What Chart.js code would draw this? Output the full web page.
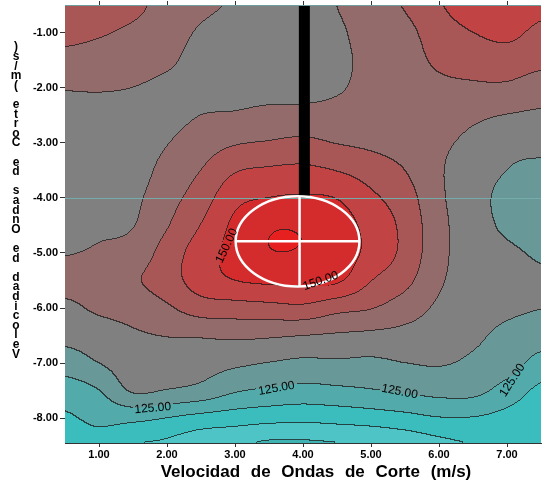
<!DOCTYPE html>
<html>
<head>
<meta charset="utf-8">
<script src="https://cdn.jsdelivr.net/npm/chart.js@4.4.1/dist/chart.umd.min.js"></script>
<style>
  html, body { margin: 0; padding: 0; background: #fff; }
  #wrap { width: 542px; height: 493px; position: relative; }
</style>
</head>
<body>
<div id="wrap"><canvas id="chart"></canvas></div>
<script>
// Malla de valores (columnas = x, filas = profundidad)
const gridX = [0.5, 1.0, 1.5, 2.0, 2.5, 3.0, 3.5, 4.0, 4.5, 5.0, 5.5, 6.0, 6.5, 7.0, 7.5];
const gridY = [-0.5, -1.0, -1.5, -2.0, -2.5, -3.0, -3.5, -4.0, -4.5, -5.0, -5.5, -6.0, -6.5, -7.0, -7.5, -8.0, -8.5];
const gridValues = [
  [143.5, 143.8, 141.5, 138.0, 136.0, 134.5, 133.0, 132.5, 135.0, 138.5, 140.3, 144.5, 147.5, 149.3, 146.5],
  [141.5, 140.6, 139.0, 137.0, 134.5, 133.0, 132.0, 132.0, 134.0, 137.3, 138.6, 142.6, 145.0, 146.3, 143.8],
  [138.5, 138.0, 137.3, 135.8, 133.5, 132.5, 132.0, 132.2, 133.8, 136.3, 137.6, 141.0, 142.0, 142.8, 141.5],
  [135.3, 135.4, 135.0, 134.0, 133.7, 133.5, 133.3, 133.2, 134.4, 136.5, 137.0, 138.8, 139.3, 139.2, 137.5],
  [133.5, 133.5, 133.5, 133.5, 135.0, 135.4, 136.2, 136.5, 136.8, 137.5, 136.9, 137.3, 136.0, 134.9, 134.3],
  [132.5, 132.5, 132.8, 134.8, 137.5, 139.5, 140.3, 141.0, 139.8, 139.0, 137.8, 136.0, 133.8, 131.5, 131.5],
  [132.5, 132.5, 133.0, 136.5, 140.0, 144.5, 145.6, 146.0, 144.8, 142.7, 140.0, 135.6, 132.5, 130.0, 129.0],
  [133.0, 133.2, 134.0, 138.0, 142.5, 148.5, 150.0, 150.5, 149.8, 146.0, 142.3, 136.0, 132.0, 128.7, 127.8],
  [133.8, 134.2, 134.8, 139.6, 145.1, 151.0, 154.3, 154.4, 152.5, 148.2, 143.7, 136.6, 132.2, 129.2, 128.0],
  [134.8, 135.5, 137.0, 142.0, 147.5, 151.5, 154.7, 154.6, 153.0, 148.5, 143.7, 136.6, 132.5, 130.8, 129.5],
  [136.5, 137.0, 139.3, 142.5, 147.5, 150.0, 151.0, 151.2, 150.8, 145.2, 141.5, 135.8, 132.5, 131.5, 130.5],
  [134.0, 135.8, 137.0, 139.3, 142.5, 143.0, 143.5, 144.0, 141.7, 140.3, 137.5, 134.2, 131.8, 130.8, 130.1],
  [131.5, 132.5, 134.3, 135.2, 135.5, 136.0, 135.7, 135.1, 134.5, 134.0, 133.5, 132.5, 130.8, 129.0, 127.5],
  [127.5, 130.0, 132.5, 132.5, 132.0, 131.0, 129.9, 129.0, 129.3, 129.0, 130.0, 130.4, 129.2, 127.5, 123.2],
  [122.5, 124.9, 130.6, 129.8, 128.5, 125.6, 124.3, 123.5, 124.0, 124.7, 125.7, 126.6, 126.5, 123.0, 119.0],
  [119.3, 121.2, 121.3, 120.0, 118.5, 117.5, 116.7, 116.3, 116.8, 117.5, 118.5, 119.8, 119.8, 118.5, 117.0],
  [117.0, 118.0, 115.0, 114.0, 111.5, 110.5, 109.0, 109.0, 109.5, 110.0, 111.5, 113.5, 115.0, 116.0, 116.0]
];
const levels = [110, 115, 120, 125, 130, 135, 140, 145, 150, 155];
const bandColors = ['#3fb3b4', '#4fc4c7', '#3cbdbd', '#53aaaa', '#689898', '#808080',
                    '#946b6b', '#a95656', '#c14343', '#d42c2c', '#e61f1f'];
const xTicks = [1, 2, 3, 4, 5, 6, 7];
const yTicks = [-1, -2, -3, -4, -5, -6, -7, -8];
const labelValues = [150, 150, 125, 125, 125, 125];

// donde van las etiquetas de las curvas (coordenadas de datos) y su giro
const labelSpots = [
  { x: 2.88, y: -4.87, angle: -65 },
  { x: 4.26, y: -5.51, angle: -19 },
  { x: 1.79, y: -7.82, angle: -5 },
  { x: 3.61, y: -7.46, angle: -10 },
  { x: 5.42, y: -7.52, angle: 11 },
  { x: 7.08, y: -7.31, angle: -57 }
];
const barX = 4.02, barFrom = -0.5, barTo = -4.0;
const ring = { cx: 3.92, cy: -4.79, rx: 0.91, ry: 0.82 };
const markerDepth = -4.0;

const labelFont = '12px Arial';

function cubic(p0, p1, p2, p3, t) {
  return p1 + 0.5 * t * (p2 - p0 + t * (2 * p0 - 5 * p1 + 4 * p2 - p3 + t * (3 * (p1 - p2) + p3 - p0)));
}

function sampleGrid(x, y) {
  const fx = (x - gridX[0]) / (gridX[1] - gridX[0]);
  const fy = (y - gridY[0]) / (gridY[1] - gridY[0]);
  const ix = Math.floor(fx), iy = Math.floor(fy);
  const tx = fx - ix, ty = fy - iy;
  const nx = gridX.length, ny = gridY.length;
  const at = (r, c) => gridValues[Math.min(ny - 1, Math.max(0, r))][Math.min(nx - 1, Math.max(0, c))];
  const rows = [];
  for (let k = -1; k <= 2; k++) {
    const r = iy + k;
    rows.push(cubic(at(r, ix - 1), at(r, ix), at(r, ix + 1), at(r, ix + 2), tx));
  }
  return cubic(rows[0], rows[1], rows[2], rows[3], ty);
}

function hexToRgb(h) {
  return [parseInt(h.slice(1, 3), 16), parseInt(h.slice(3, 5), 16), parseInt(h.slice(5, 7), 16)];
}

// Pinta las bandas de colores y las curvas de nivel
const contourPlugin = {
  id: 'contourField',
  beforeDatasetsDraw(chart) {
    const { ctx, chartArea: a, scales: { x, y } } = chart;
    const left = Math.round(a.left), top = Math.round(a.top);
    const w = Math.round(a.right) - left, h = Math.round(a.bottom) - top;

    const xs = [], ys = [];
    for (let i = 0; i < w; i++) xs.push(x.getValueForPixel(left + i + 0.5));
    for (let j = 0; j < h; j++) ys.push(y.getValueForPixel(top + j + 0.5));

    const band = new Uint8Array(w * h);
    for (let j = 0; j < h; j++) {
      for (let i = 0; i < w; i++) {
        const v = sampleGrid(xs[i], ys[j]);
        let b = 0;
        while (b < levels.length && v >= levels[b]) b++;
        band[j * w + i] = b;
      }
    }

    // huecos en la línea donde van las etiquetas
    ctx.save();
    ctx.font = labelFont;
    const gaps = labelSpots.map((s, k) => ({
      cx: x.getPixelForValue(s.x) - left,
      cy: y.getPixelForValue(s.y) - top,
      cos: Math.cos(s.angle * Math.PI / 180),
      sin: Math.sin(s.angle * Math.PI / 180),
      hw: ctx.measureText(labelValues[k].toFixed(2)).width / 2 + 2,
      hh: 6
    }));
    ctx.restore();
    const inGap = (i, j) => gaps.some(g => {
      const dx = i - g.cx, dy = j - g.cy;
      const u = dx * g.cos + dy * g.sin, v = -dx * g.sin + dy * g.cos;
      return Math.abs(u) < g.hw && Math.abs(v) < g.hh;
    });

    const rgb = bandColors.map(hexToRgb);
    const img = ctx.createImageData(w, h);
    for (let j = 0; j < h; j++) {
      for (let i = 0; i < w; i++) {
        const idx = j * w + i;
        const b = band[idx];
        let c = rgb[b];
        const edge = (i < w - 1 && band[idx + 1] !== b) || (j < h - 1 && band[idx + w] !== b);
        if (edge && !inGap(i, j)) {
          c = [c[0] * 0.25 + 20, c[1] * 0.25 + 20, c[2] * 0.25 + 20];
        }
        const p = idx * 4;
        img.data[p] = c[0];
        img.data[p + 1] = c[1];
        img.data[p + 2] = c[2];
        img.data[p + 3] = 255;
      }
    }
    ctx.putImageData(img, left, top);

    // línea horizontal de referencia
    const yy = Math.round(y.getPixelForValue(markerDepth)) + 0.5;
    ctx.save();
    ctx.strokeStyle = '#74abab';
    ctx.lineWidth = 1;
    ctx.beginPath();
    ctx.moveTo(a.left, yy);
    ctx.lineTo(a.right, yy);
    ctx.stroke();
    ctx.restore();
  }
};

// Elipse, cruz, etiquetas y títulos
const overlayPlugin = {
  id: 'overlay',
  afterDatasetsDraw(chart) {
    const { ctx, scales: { x, y } } = chart;
    const cx = x.getPixelForValue(ring.cx), cy = y.getPixelForValue(ring.cy);
    const rx = x.getPixelForValue(ring.cx + ring.rx) - cx;
    const ry = cy - y.getPixelForValue(ring.cy + ring.ry);

    ctx.save();
    ctx.strokeStyle = '#ffffff';
    ctx.lineWidth = 2.5;
    ctx.beginPath();
    ctx.ellipse(cx, cy, rx, ry, 0, 0, Math.PI * 2);
    ctx.stroke();
    ctx.beginPath();
    ctx.moveTo(cx - rx, cy);
    ctx.lineTo(cx + rx, cy);
    ctx.moveTo(cx + 2, cy - ry);
    ctx.lineTo(cx + 2, cy + ry);
    ctx.stroke();

    ctx.fillStyle = '#000';
    ctx.font = labelFont;
    ctx.textAlign = 'center';
    ctx.textBaseline = 'middle';
    labelSpots.forEach((s, k) => {
      ctx.save();
      ctx.translate(x.getPixelForValue(s.x), y.getPixelForValue(s.y));
      ctx.rotate(s.angle * Math.PI / 180);
      ctx.fillText(labelValues[k].toFixed(2), 0, 0);
      ctx.restore();
    });
    ctx.restore();
  },
  afterDraw(chart) {
    const { ctx, chartArea: a, scales: { x } } = chart;
    ctx.save();
    // borde superior y marcas
    ctx.strokeStyle = '#6f9d9d';
    ctx.lineWidth = 1;
    ctx.beginPath();
    ctx.moveTo(a.left, a.top + 0.5);
    ctx.lineTo(a.right, a.top + 0.5);
    ctx.stroke();
    ctx.strokeStyle = '#333';
    ctx.beginPath();
    xTicks.forEach(v => {
      const px = Math.round(x.getPixelForValue(v)) + 0.5;
      ctx.moveTo(px, a.top - 4);
      ctx.lineTo(px, a.top);
    });
    ctx.stroke();

    // título del eje x
    ctx.fillStyle = '#000';
    ctx.font = 'bold 17px Arial';
    ctx.textAlign = 'center';
    ctx.textBaseline = 'alphabetic';
    if ('wordSpacing' in ctx) ctx.wordSpacing = '6px';
    ctx.fillText('Velocidad de Ondas de Corte (m/s)', 316, 477);
    if ('wordSpacing' in ctx) ctx.wordSpacing = '0px';

    // título del eje y, letra por letra
    const yTitle = 'Velocidad de Ondas de Corte (m/s)';
    const chars = yTitle.split('').reverse();
    ctx.font = 'bold 12px Arial';
    ctx.textBaseline = 'middle';
    chars.forEach((ch, k) => {
      ctx.fillText(ch, 16, 47 + k * 9.6);
    });
    ctx.restore();
  }
};

const tickFont = { family: 'Arial', size: 11, weight: 'bold' };

new Chart(document.getElementById('chart'), {
  type: 'scatter',
  data: {
    datasets: [{
      data: [{ x: barX, y: barFrom }, { x: barX, y: barTo }],
      showLine: true,
      borderColor: '#000',
      borderWidth: 11,
      borderCapStyle: 'butt',
      pointRadius: 0
    }]
  },
  options: {
    responsive: true,
    maintainAspectRatio: false,
    animation: false,
    layout: { padding: { top: 5, right: 1, left: 0, bottom: 0 } },
    plugins: {
      legend: { display: false },
      tooltip: { enabled: false }
    },
    scales: {
      x: {
        type: 'linear',
        min: 0.5,
        max: 7.5,
        afterBuildTicks: s => { s.ticks = xTicks.map(v => ({ value: v })); },
        afterFit: s => { s.height = 50; s.paddingLeft = 0; s.paddingRight = 0; },
        ticks: {
          callback: v => Number(v).toFixed(2),
          font: tickFont,
          color: '#000',
          padding: 1,
          maxRotation: 0,
          autoSkip: false
        },
        grid: { drawOnChartArea: false, tickLength: 4, color: '#333' },
        border: { color: '#333' }
      },
      y: {
        type: 'linear',
        min: -8.45,
        max: -0.5,
        afterBuildTicks: s => { s.ticks = yTicks.map(v => ({ value: v })); },
        afterFit: s => { s.width = 65; s.paddingTop = 0; s.paddingBottom = 0; },
        ticks: {
          callback: v => Number(v).toFixed(2),
          font: tickFont,
          color: '#000',
          padding: 2,
          autoSkip: false
        },
        grid: { drawOnChartArea: false, tickLength: 5, color: '#333' },
        border: { color: '#333' }
      }
    }
  },
  plugins: [contourPlugin, overlayPlugin]
});
</script>
</body>
</html>
